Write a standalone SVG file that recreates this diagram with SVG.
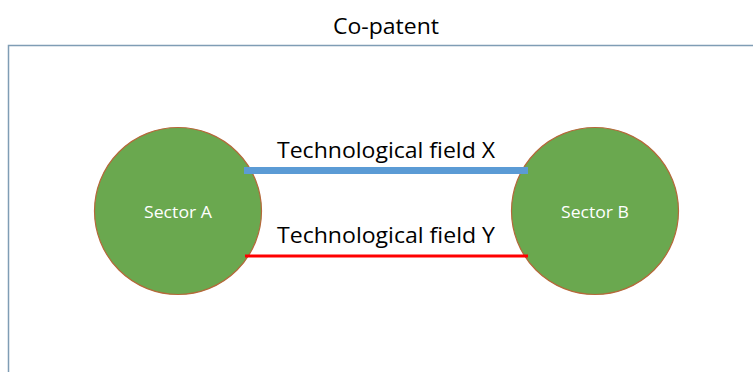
<svg xmlns="http://www.w3.org/2000/svg" width="753" height="372" viewBox="0 0 753 372">
<style>
text{font-family:"Open Sans","Liberation Sans",sans-serif}
.lbl{font-size:22px;fill:#000}
.node circle{fill:#6aa84f;fill-opacity:1;stroke:#b5683a;stroke-width:1.2}
.node text{font-size:16px;fill:#fff;text-anchor:middle}
</style>
<rect x="0" y="0" width="753" height="372" fill="#fff"/>
<text x="386" y="34" font-size="22" text-anchor="middle" fill="#000" textLength="106" lengthAdjust="spacingAndGlyphs">Co-patent</text>
<path d="M8.5 372 V45.5 H753" fill="none" stroke="#7f9db5" stroke-width="1.5"/>
<g id="sectorA" class="node">
<circle cx="178" cy="211" r="83.5"/>
<text x="178" y="218" textLength="68" lengthAdjust="spacingAndGlyphs">Sector A</text>
</g>
<g id="sectorB" class="node">
<circle cx="595" cy="211" r="83.5"/>
<text x="595" y="218" textLength="68" lengthAdjust="spacingAndGlyphs">Sector B</text>
</g>
<g id="connectors">
<line x1="244" y1="170.5" x2="528" y2="170.5" stroke="#5b9bd5" stroke-width="7"/>
<line x1="245" y1="256" x2="528" y2="256" stroke="#ff0000" stroke-width="3"/>
<text class="lbl" x="386" y="158" text-anchor="middle" textLength="218" lengthAdjust="spacingAndGlyphs">Technological field X</text>
<text class="lbl" x="386" y="243" text-anchor="middle" textLength="218" lengthAdjust="spacingAndGlyphs">Technological field Y</text>
</g>
</svg>
